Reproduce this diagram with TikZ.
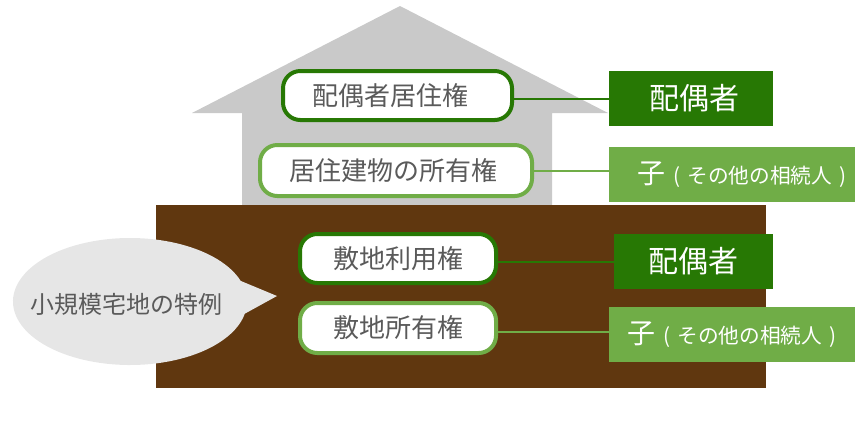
\documentclass[tikz,border=0pt]{standalone}
\usepackage{fontspec}
\setmainfont{Noto Sans CJK JP}
\usetikzlibrary{shapes.callouts}
\definecolor{darkgreen}{HTML}{277804}
\definecolor{lightgreen}{HTML}{70AD47}
\definecolor{soil}{HTML}{60370F}
\definecolor{wall}{HTML}{C9C9C9}
\definecolor{bubblegrey}{HTML}{E6E6E6}
\definecolor{inktext}{HTML}{5A5A5A}
\tikzset{
  rightdark/.style={draw=darkgreen,line width=3pt,fill=white,rounded corners=13pt,inner sep=0pt,text=inktext,font=\fontsize{19.5pt}{20pt}\selectfont},
  rightlight/.style={draw=lightgreen,line width=3pt,fill=white,rounded corners=13pt,inner sep=0pt,text=inktext,font=\fontsize{19.5pt}{20pt}\selectfont},
  heirdark/.style={fill=darkgreen,inner sep=0pt,text=white,font=\fontsize{22.5pt}{23pt}\selectfont},
  heirlight/.style={fill=lightgreen,inner sep=0pt,text=white,minimum width=184.5pt,minimum height=41.25pt,font=\fontsize{15.5pt}{16pt}\selectfont},
  linkdark/.style={draw=darkgreen,line width=1.5pt},
  linklight/.style={draw=lightgreen,line width=1.5pt},
}
\newcommand{\otherheirs}{{\fontsize{21pt}{22pt}\selectfont 子}\hspace{6pt}(\hspace{5.5pt}その他の相続人\hspace{5.5pt})}
\begin{document}
\begin{tikzpicture}[x=0.75pt,y=-0.75pt]
\useasboundingbox (0,0) rectangle (864,421);
% house and ground
\fill[wall] (400,6) -- (608,113) -- (552,113) -- (552,205) -- (242,205) -- (242,113) -- (192,113) -- cycle;
\fill[soil] (156,205) rectangle (766,388);
% bubble
\node[ellipse callout,fill=bubblegrey,inner sep=0pt,minimum width=175.5pt,minimum height=95.25pt,
  callout absolute pointer={(277,296)},callout pointer arc=30] (bubble) at (130,301.5) {};
\node[text=inktext,inner sep=0pt,font=\fontsize{18pt}{18pt}\selectfont] (bubbletext) at (127,304) {小規模宅地の特例};
% rights
\node[rightdark,minimum width=171.75pt,minimum height=36.75pt] (spouseright) at (397.5,95.5) {\hspace*{-10.5pt}配偶者居住権};
\node[rightlight,minimum width=204pt,minimum height=38.25pt] (ownright) at (396,170.5) {\hspace*{-3.75pt}居住建物の所有権};
\node[rightdark,minimum width=147pt,minimum height=36.75pt] (landuse) at (398,258.5) {敷地利用権};
\node[rightlight,minimum width=147pt,minimum height=37.5pt] (landown) at (398,328) {敷地所有権};
% heirs
\node[heirdark,minimum width=123pt,minimum height=41.25pt] (spouseA) at (691,98.5) {\hspace*{4.5pt}配偶者};
\node[heirlight] (childA) at (732,174.5) {\hspace*{15pt}\otherheirs};
\node[heirdark,minimum width=119.25pt,minimum height=41.25pt] (spouseB) at (693.5,261.5) {配偶者};
\node[heirlight] (childB) at (732,334.5) {\otherheirs};
% links
\draw[linkdark] (spouseA.west -| spouseright.east) -- (spouseA.west);
\draw[linklight] (ownright.east) -- (ownright.east -| childA.west);
\draw[linkdark] (spouseB.west -| landuse.east) -- (spouseB.west);
\draw[linklight] ([yshift=1.9pt]childB.west -| landown.east) -- ([yshift=1.9pt]childB.west);
\end{tikzpicture}
\end{document}
